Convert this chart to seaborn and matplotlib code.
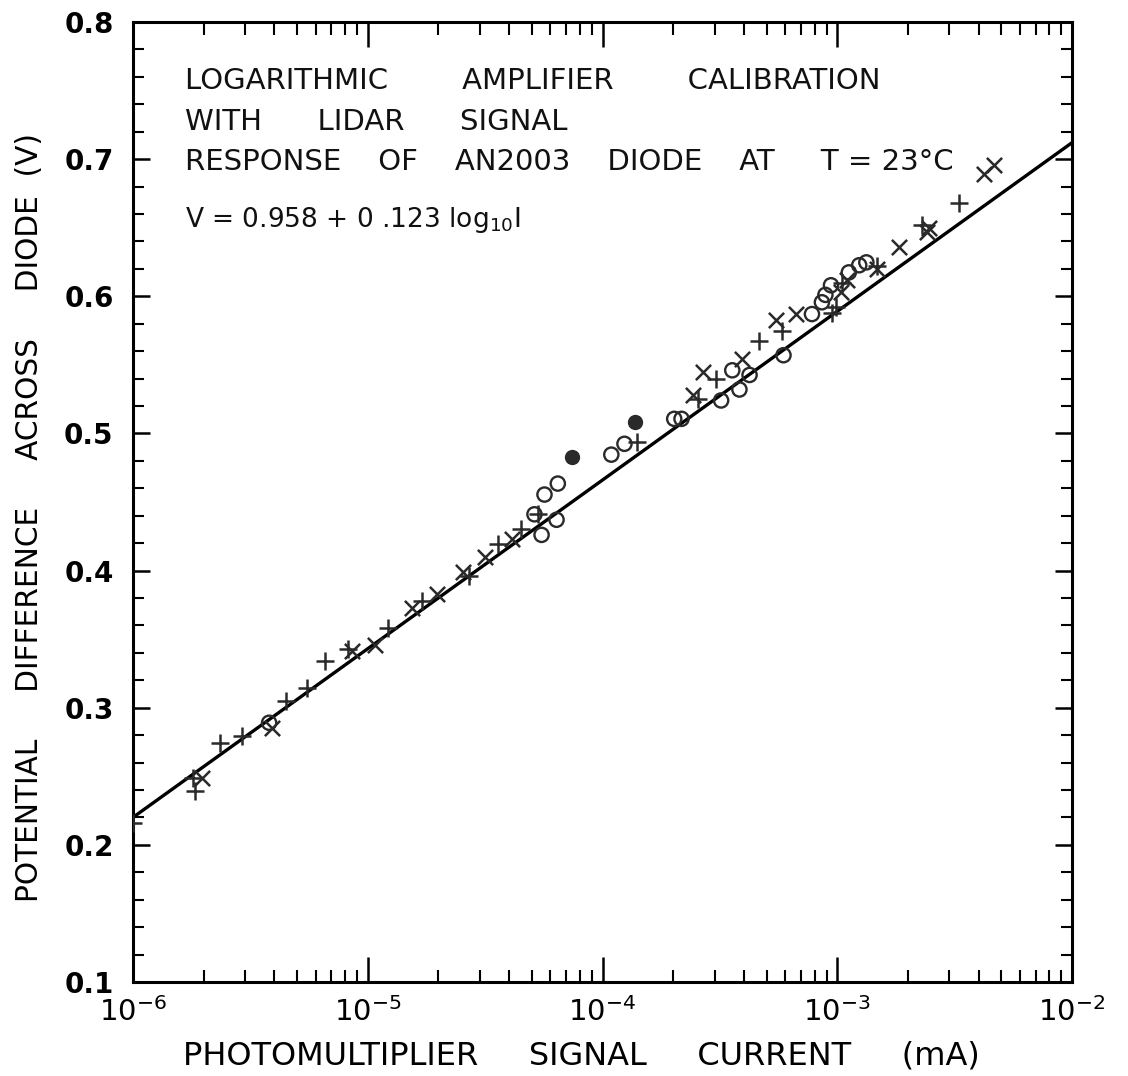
import numpy as np
import pandas as pd
import matplotlib
matplotlib.use("Agg")
import matplotlib.pyplot as plt
from matplotlib.ticker import LogLocator, MultipleLocator, FuncFormatter, NullFormatter
import seaborn as sns

# Calibration points: photomultiplier current (mA) and diode voltage (V)
plus_current = [1.0e-6, 1.8e-6, 1.84e-6, 2.35e-6, 2.9e-6, 4.5e-6, 5.5e-6, 6.6e-6,
                8.2e-6, 1.22e-5, 1.71e-5, 2.7e-5, 3.57e-5, 4.5e-5, 5.3e-5, 1.4e-4,
                2.55e-4, 3.05e-4, 4.66e-4, 5.8e-4, 9.5e-4, 9.9e-4, 1.05e-3, 1.47e-3,
                2.3e-3, 3.3e-3]
plus_voltage = [0.216, 0.249, 0.2395, 0.274, 0.2795, 0.305, 0.314, 0.334,
                0.343, 0.358, 0.378, 0.396, 0.419, 0.430, 0.441, 0.494,
                0.525, 0.540, 0.567, 0.575, 0.588, 0.592, 0.610, 0.622,
                0.652, 0.668]

cross_current = [1.97e-6, 3.9e-6, 8.55e-6, 1.07e-5, 1.54e-5, 1.97e-5, 2.54e-5,
                 3.15e-5, 4.1e-5, 2.42e-4, 2.67e-4, 3.94e-4, 5.5e-4, 6.7e-4,
                 1.04e-3, 1.1e-3, 1.48e-3, 1.84e-3, 2.42e-3, 2.45e-3, 4.2e-3, 4.66e-3]
cross_voltage = [0.249, 0.285, 0.341, 0.346, 0.3725, 0.383, 0.399,
                 0.410, 0.423, 0.528, 0.545, 0.554, 0.583, 0.587,
                 0.603, 0.612, 0.620, 0.636, 0.6465, 0.650, 0.689, 0.696]

open_current = [3.8e-6, 5.13e-5, 5.5e-5, 5.66e-5, 6.37e-5, 6.45e-5, 1.09e-4, 1.24e-4,
                2.02e-4, 2.17e-4, 3.2e-4, 3.57e-4, 3.83e-4, 4.23e-4, 5.9e-4, 7.8e-4,
                8.6e-4, 8.9e-4, 9.4e-4, 1.12e-3, 1.24e-3, 1.33e-3]
open_voltage = [0.289, 0.441, 0.426, 0.4554, 0.437, 0.4634, 0.4845, 0.4924,
                0.5106, 0.5106, 0.524, 0.546, 0.532, 0.5426, 0.557, 0.587,
                0.5956, 0.601, 0.608, 0.6174, 0.6226, 0.6247]

solid_current = [7.38e-5, 1.38e-4]
solid_voltage = [0.483, 0.5084]

# Least-squares fit: V = a + b log10(I)
fit_a = 0.958
fit_b = 0.123

x_decades = [-6, -5, -4, -3, -2]
y_ticks = [0.1, 0.2, 0.3, 0.4, 0.5, 0.6, 0.7, 0.8]

sns.set_theme(style="ticks")
plt.rcParams['font.family'] = ['DejaVu Sans']
plt.rcParams.update({
    'axes.linewidth': 2.2,
    'text.color': 'black',
    'axes.labelcolor': 'black',
    'xtick.color': 'black',
    'ytick.color': 'black',
})

fig = plt.figure(figsize=(11.28, 10.76), dpi=100)
ax = fig.add_axes([0.1179, 0.0874, 0.8325, 0.8922])
ax.set_xscale('log')

fit_current = np.logspace(x_decades[0], x_decades[-1], 60)
fit_df = pd.DataFrame({"current": fit_current,
                       "voltage": fit_a + fit_b * np.log10(fit_current)})
sns.lineplot(data=fit_df, x="current", y="voltage", ax=ax, color="black",
             linewidth=2.4, zorder=2)

mark_color = "#2a2a2a"
sns.scatterplot(x=plus_current, y=plus_voltage, ax=ax, marker="+", s=150,
                color=mark_color, linewidth=1.8, zorder=3)
sns.scatterplot(x=cross_current, y=cross_voltage, ax=ax, marker="x", s=120,
                color=mark_color, linewidth=1.8, zorder=3)
sns.scatterplot(x=open_current, y=open_voltage, ax=ax, marker="o", s=105,
                facecolor="none", edgecolor=mark_color, linewidth=1.7, zorder=3)
sns.scatterplot(x=solid_current, y=solid_voltage, ax=ax, marker="o", s=100,
                color=mark_color, edgecolor=mark_color, linewidth=1.0, zorder=3)

ax.set_xlim(10.0 ** x_decades[0], 10.0 ** x_decades[-1])
ax.set_ylim(y_ticks[0], y_ticks[-1])

ax.xaxis.set_major_locator(LogLocator(base=10, numticks=20))
ax.xaxis.set_minor_locator(LogLocator(base=10, subs=np.arange(2, 10), numticks=100))
ax.xaxis.set_major_formatter(
    FuncFormatter(lambda v, p: r"$10^{%d}$" % int(round(np.log10(v)))))
ax.xaxis.set_minor_formatter(NullFormatter())

ax.set_yticks(y_ticks, labels=[f"{v:.1f}" for v in y_ticks], fontweight="bold")
ax.yaxis.set_minor_locator(MultipleLocator(0.02))

ax.tick_params(axis="both", which="both", direction="in", top=True, right=True,
               color="black", labelcolor="black")
ax.tick_params(axis="x", which="major", length=18, width=1.8, labelsize=21, pad=11)
ax.tick_params(axis="x", which="minor", length=9, width=1.5)
ax.tick_params(axis="y", which="major", length=12, width=1.8, labelsize=20, pad=14)
ax.tick_params(axis="y", which="minor", length=8, width=1.5)
for sp in ax.spines.values():
    sp.set_visible(True)
    sp.set_color("black")

ax.set_xlabel("PHOTOMULTIPLIER     SIGNAL     CURRENT     (mA)", fontsize=23,
              va="center")
ax.xaxis.set_label_coords(0.478, -0.077)
ax.set_ylabel("POTENTIAL     DIFFERENCE     ACROSS     DIODE  (V)", fontsize=21.3,
              va="center")
ax.yaxis.set_label_coords(-0.1097, 0.484)

txt = dict(transform=ax.transAxes, va="center", ha="left", color="#111111")
ax.text(0.055, 0.9385, "LOGARITHMIC        AMPLIFIER        CALIBRATION",
        fontsize=21, **txt)
ax.text(0.055, 0.896, "WITH      LIDAR      SIGNAL", fontsize=21, **txt)
ax.text(0.055, 0.854, "RESPONSE    OF    AN2003    DIODE    AT     T = 23°C",
        fontsize=21, **txt)
ax.text(0.055, 0.794, r"V = 0.958 + 0 .123 log$_{10}$I", fontsize=19, **txt)

fig.savefig("out.png", dpi=100)
